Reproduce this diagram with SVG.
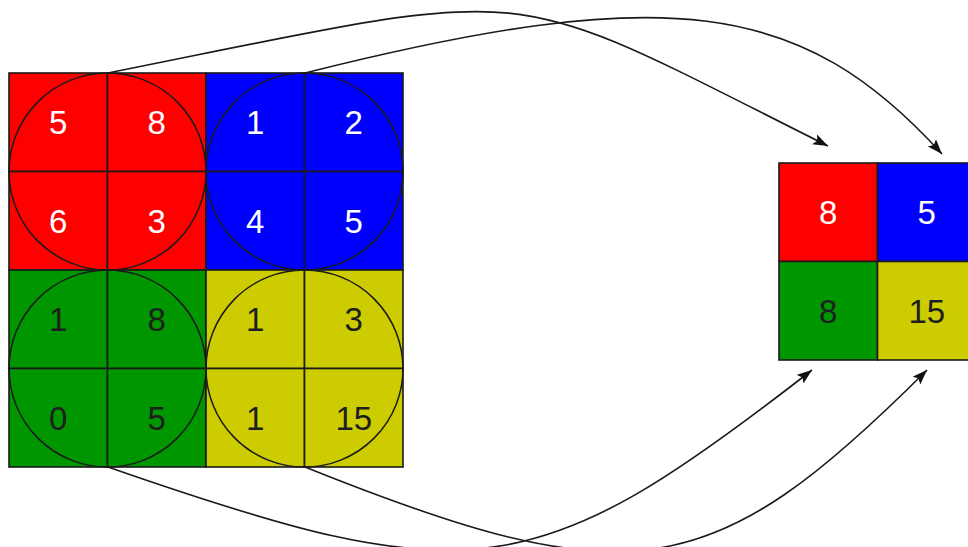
<svg xmlns="http://www.w3.org/2000/svg" width="968" height="547" viewBox="0 0 968 547">
<style>
  .cell { stroke: #1a1a1a; stroke-width: 1.6; }
  .r { fill: #ff0000; }
  .b { fill: #0000ff; }
  .g { fill: #009600; }
  .y { fill: #cccc00; }
  .ring { fill: none; stroke: #1a1a1a; stroke-width: 1.5; }
  text { font-family: "Liberation Sans", Arial, sans-serif; font-size: 33px; text-anchor: middle; }
  .lt { fill: #ffffff; }
  .dk { fill: #1e1e1e; }
  .conn { fill: none; stroke: #1a1a1a; stroke-width: 1.6; marker-end: url(#arrow); }
</style>
<defs>
  <marker id="arrow" markerUnits="userSpaceOnUse" markerWidth="18" markerHeight="14" refX="15" refY="5.5" orient="auto">
    <path d="M0,0 L15,5.5 L0,11 L3,5.5 Z" fill="#111"/>
  </marker>
</defs>

<g id="input-red">
  <rect class="cell r" x="9" y="73" width="98.5" height="98.5"/>
  <rect class="cell r" x="107.5" y="73" width="98.5" height="98.5"/>
  <rect class="cell r" x="9" y="171.5" width="98.5" height="98.5"/>
  <rect class="cell r" x="107.5" y="171.5" width="98.5" height="98.5"/>
  <circle class="ring" cx="107.5" cy="171.5" r="98.5"/>
  <text class="lt" x="58.25" y="134">5</text>
  <text class="lt" x="156.75" y="134">8</text>
  <text class="lt" x="58.25" y="232.5">6</text>
  <text class="lt" x="156.75" y="232.5">3</text>
</g>

<g id="input-blue">
  <rect class="cell b" x="206" y="73" width="98.5" height="98.5"/>
  <rect class="cell b" x="304.5" y="73" width="98.5" height="98.5"/>
  <rect class="cell b" x="206" y="171.5" width="98.5" height="98.5"/>
  <rect class="cell b" x="304.5" y="171.5" width="98.5" height="98.5"/>
  <circle class="ring" cx="304.5" cy="171.5" r="98.5"/>
  <text class="lt" x="255.25" y="134">1</text>
  <text class="lt" x="353.75" y="134">2</text>
  <text class="lt" x="255.25" y="232.5">4</text>
  <text class="lt" x="353.75" y="232.5">5</text>
</g>

<g id="input-green">
  <rect class="cell g" x="9" y="270" width="98.5" height="98.5"/>
  <rect class="cell g" x="107.5" y="270" width="98.5" height="98.5"/>
  <rect class="cell g" x="9" y="368.5" width="98.5" height="98.5"/>
  <rect class="cell g" x="107.5" y="368.5" width="98.5" height="98.5"/>
  <circle class="ring" cx="107.5" cy="368.5" r="98.5"/>
  <text class="dk" x="58.25" y="331">1</text>
  <text class="dk" x="156.75" y="331">8</text>
  <text class="dk" x="58.25" y="429.5">0</text>
  <text class="dk" x="156.75" y="429.5">5</text>
</g>

<g id="input-yellow">
  <rect class="cell y" x="206" y="270" width="98.5" height="98.5"/>
  <rect class="cell y" x="304.5" y="270" width="98.5" height="98.5"/>
  <rect class="cell y" x="206" y="368.5" width="98.5" height="98.5"/>
  <rect class="cell y" x="304.5" y="368.5" width="98.5" height="98.5"/>
  <circle class="ring" cx="304.5" cy="368.5" r="98.5"/>
  <text class="dk" x="255.25" y="331">1</text>
  <text class="dk" x="353.75" y="331">3</text>
  <text class="dk" x="255.25" y="429.5">1</text>
  <text class="dk" x="353.75" y="429.5">15</text>
</g>

<g id="output-red">
  <rect class="cell r" x="779" y="163" width="98.5" height="98.5"/>
  <text class="lt" x="828.25" y="224">8</text>
</g>
<g id="output-blue">
  <rect class="cell b" x="877.5" y="163" width="98.5" height="98.5"/>
  <text class="lt" x="926.75" y="224">5</text>
</g>
<g id="output-green">
  <rect class="cell g" x="779" y="261.5" width="98.5" height="98.5"/>
  <text class="dk" x="828.25" y="322.5">8</text>
</g>
<g id="output-yellow">
  <rect class="cell y" x="877.5" y="261.5" width="98.5" height="98.5"/>
  <text class="dk" x="926.75" y="322.5">15</text>
</g>

<g id="connectors">
  <path class="conn" d="M108,73 C553,-16 492,-22 828,146"/>
  <path class="conn" d="M305,73 C668,-18 801,-1 942,154"/>
  <path class="conn" d="M108,467 C472,594 535,586 812,370"/>
  <path class="conn" d="M305,467 C631,598 712,585 927,370"/>
</g>
</svg>
